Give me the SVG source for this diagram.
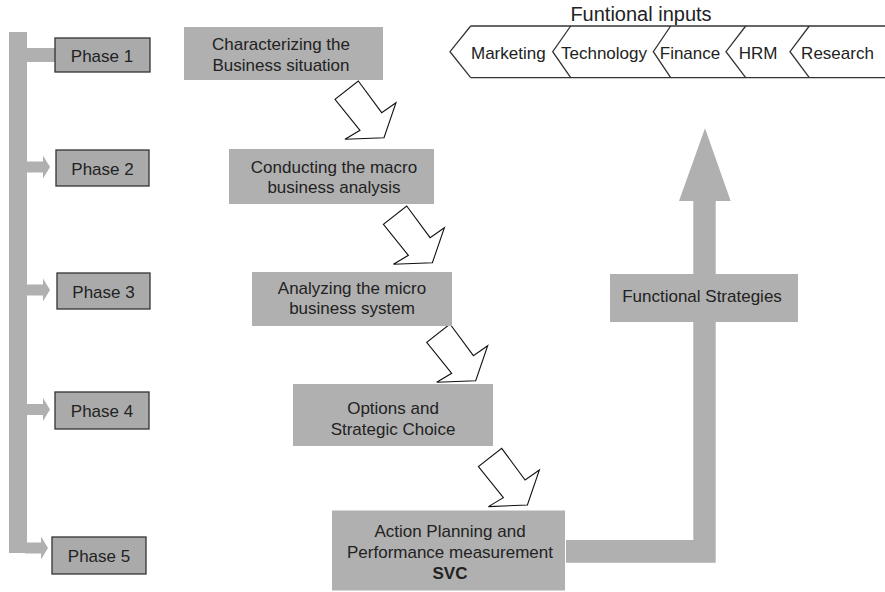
<svg xmlns="http://www.w3.org/2000/svg" width="885" height="592" viewBox="0 0 885 592">
  <style>
    text { font-family: "Liberation Sans", Arial, sans-serif; font-size: 17px; fill: #222; }
    .c { text-anchor: middle; }
    .band { fill: #b0b0b0; }
    .phase { fill: #aaaaaa; stroke: #333; stroke-width: 1.3; }
    .step { fill: #b0b0b0; }
    .flow { fill: #fff; stroke: #111; stroke-width: 1.1; stroke-linejoin: miter; }
    .inp { fill: none; stroke: #333; stroke-width: 1.3; }
  </style>
  <defs>
    <!-- hollow block arrow pointing down-right, anchored at the tail's top corner -->
    <polygon id="stepArrow" class="flow" points="0,0 23.4,31.7 37.7,21.7 25.7,56.7 -13.3,58.3 1.7,49.3 -23.3,18.3"/>
    <!-- small branch arrow from the phase spine -->
    <polygon id="branch" class="band" points="27,-5.5 43,-5.5 43,-11.5 50,0 43,11.5 43,5.5 27,5.5"/>
  </defs>

  <!-- connectors -->
  <g id="connectors">
    <rect class="band" x="9" y="32" width="18" height="521"/>
    <rect class="band" x="27" y="48" width="28" height="14"/>
    <use href="#branch" x="0" y="167"/>
    <use href="#branch" x="0" y="290"/>
    <use href="#branch" x="0" y="409.5"/>
    <use href="#branch" x="-2" y="548"/>

    <use href="#stepArrow" x="358.3" y="81"/>
    <use href="#stepArrow" x="406.7" y="206"/>
    <use href="#stepArrow" x="450" y="324"/>
    <use href="#stepArrow" x="501.7" y="448.3"/>

    <!-- output path from action planning up to the functional inputs -->
    <polygon class="band" points="566,540 693.3,540 693.3,201 679,201 705,128.3 730.7,201 715.7,201 715.7,562.7 566,562.7"/>
  </g>

  <!-- phases -->
  <g id="phase1"><rect class="phase" x="55" y="38" width="95" height="34"/><text class="c" x="102" y="61.5">Phase 1</text></g>
  <g id="phase2"><rect class="phase" x="56" y="150" width="93" height="36"/><text class="c" x="102.5" y="174.5">Phase 2</text></g>
  <g id="phase3"><rect class="phase" x="57" y="273" width="93" height="36"/><text class="c" x="103.5" y="297.5">Phase 3</text></g>
  <g id="phase4"><rect class="phase" x="55" y="392" width="94" height="37"/><text class="c" x="102" y="417">Phase 4</text></g>
  <g id="phase5"><rect class="phase" x="52" y="537" width="94" height="37"/><text class="c" x="99" y="562">Phase 5</text></g>

  <!-- process steps -->
  <g id="step1">
    <rect class="step" x="184" y="27" width="199" height="53"/>
    <text class="c" x="281" y="50.3">Characterizing the</text>
    <text class="c" x="281" y="71">Business situation</text>
  </g>
  <g id="step2">
    <rect class="step" x="229" y="149" width="205" height="55"/>
    <text class="c" x="334" y="173.3">Conducting the macro</text>
    <text class="c" x="334" y="193">business analysis</text>
  </g>
  <g id="step3">
    <rect class="step" x="252" y="272" width="200" height="54"/>
    <text class="c" x="352" y="294">Analyzing the micro</text>
    <text class="c" x="352" y="314">business system</text>
  </g>
  <g id="step4">
    <rect class="step" x="293" y="384" width="200" height="62"/>
    <text class="c" x="393" y="414">Options and</text>
    <text class="c" x="393" y="435">Strategic Choice</text>
  </g>
  <g id="step5">
    <rect class="step" x="332" y="510.5" width="233" height="80"/>
    <text class="c" x="450" y="536.5">Action Planning and</text>
    <text class="c" x="450" y="557.5">Performance measurement</text>
    <text class="c" x="450" y="578.5" font-weight="bold">SVC</text>
  </g>

  <g id="functional-strategies">
    <rect class="step" x="610" y="274" width="188" height="48"/>
    <text class="c" x="702" y="302">Functional Strategies</text>
  </g>

  <!-- functional inputs strip -->
  <g id="functional-inputs">
    <text class="c" x="641" y="20.5" style="font-size:20px">Funtional inputs</text>
    <line class="inp" x1="470.7" y1="26" x2="885" y2="26"/>
    <line class="inp" x1="470.7" y1="77.7" x2="885" y2="77.7"/>
    <polyline class="inp" points="470.7,26 450,51.7 470.7,77.7"/>
    <polyline class="inp" points="570.7,26 552.7,51.7 570.7,77.7"/>
    <polyline class="inp" points="670.7,26 653.3,51.7 670.7,77.7"/>
    <polyline class="inp" points="745.7,26 726,51.7 745.7,77.7"/>
    <polyline class="inp" points="809.3,26 790,51.7 809.3,77.7"/>
    <text class="c" x="508.3" y="59.3">Marketing</text>
    <text class="c" x="604" y="59.3">Technology</text>
    <text class="c" x="690" y="59.3">Finance</text>
    <text class="c" x="758" y="59.3">HRM</text>
    <text class="c" x="837.5" y="59.3">Research</text>
  </g>
</svg>
